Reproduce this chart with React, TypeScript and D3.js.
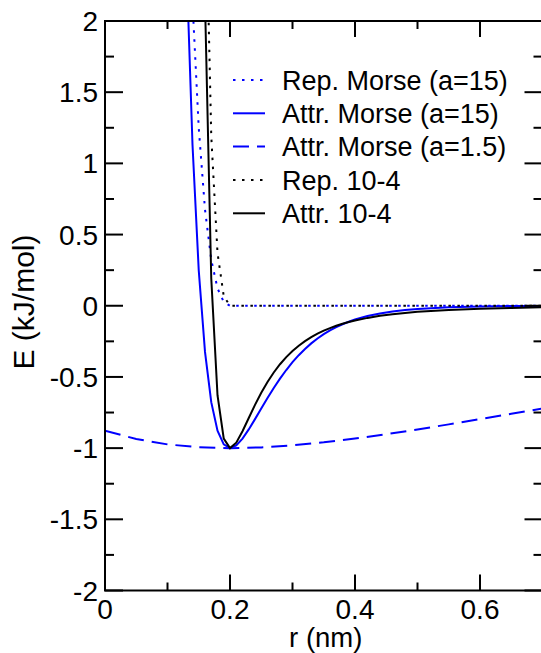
import React from "react";
import * as d3 from "d3";

// r (nm) sample points for the a=15 Morse and 10-4 curves
const R = [
  0.13, 0.14, 0.15, 0.16, 0.17, 0.18, 0.19, 0.2, 0.21, 0.22, 0.23, 0.24, 0.25,
  0.26, 0.27, 0.28, 0.29, 0.3, 0.31, 0.32, 0.33, 0.34, 0.35, 0.36, 0.37, 0.38,
  0.39, 0.4, 0.42, 0.44, 0.46, 0.48, 0.5, 0.55, 0.6, 0.65, 0.7,
];

const REP_MORSE_15 = [
  3.45087, 2.13044, 1.24769, 0.67588, 0.32298, 0.1224, 0.02619, 0, 0, 0, 0, 0, 0,
  0, 0, 0, 0, 0, 0, 0, 0, 0, 0, 0, 0, 0, 0, 0, 0, 0, 0, 0, 0, 0, 0, 0, 0,
];

const ATTR_MORSE_15 = [
  2.45087, 1.13044, 0.24769, -0.32412, -0.67702, -0.8776, -0.97381, -1, -0.9806,
  -0.93283, -0.86869, -0.79643, -0.7216, -0.64784, -0.57742, -0.51167, -0.45128,
  -0.39647, -0.34722, -0.30327, -0.26431, -0.22992, -0.19969, -0.17321, -0.15007,
  -0.1299, -0.11234, -0.0971, -0.07241, -0.0539, -0.04007, -0.02977, -0.0221,
  -0.01047, -0.00495, -0.00234, -0.00111,
];

const REP_10_4 = [
  41.18, 17.66, 7.571, 3.1398, 1.19343, 0.37172, 0.06723, 0, 0, 0, 0, 0, 0, 0, 0,
  0, 0, 0, 0, 0, 0, 0, 0, 0, 0, 0, 0, 0, 0, 0, 0, 0, 0, 0, 0, 0, 0,
];

const ATTR_10_4 = [
  40.18, 16.66, 6.571, 2.1398, 0.19343, -0.62828, -0.93277, -1, -0.9619, -0.88133,
  -0.78813, -0.69608, -0.61108, -0.53519, -0.46862, -0.4108, -0.3608, -0.31766,
  -0.28042, -0.24825, -0.2204, -0.19624, -0.17523, -0.1569, -0.14087, -0.1268,
  -0.11443, -0.10352, -0.0853, -0.0709, -0.0594, -0.05013, -0.0426, -0.02912,
  -0.02057, -0.01493, -0.0111,
];

// wide Morse (a=1.5)
const R_WIDE = [0, 0.05, 0.1, 0.15, 0.2, 0.25, 0.3, 0.35, 0.4, 0.45, 0.5, 0.55, 0.6, 0.65, 0.7];
const ATTR_MORSE_1_5 = [
  -0.8776, -0.93633, -0.97381, -0.99393, -1, -0.99478, -0.9806, -0.9594, -0.93283,
  -0.90221, -0.86869, -0.83317, -0.79643, -0.75907, -0.7216,
];

const X_MAJOR = [0, 0.2, 0.4, 0.6];
const X_MINOR = [0.1, 0.3, 0.5, 0.7];
const X_LABELS = ["0", "0.2", "0.4", "0.6"];
const Y_MAJOR = [-2, -1.5, -1, -0.5, 0, 0.5, 1, 1.5, 2];
const Y_MINOR = [-1.75, -1.25, -0.75, -0.25, 0.25, 0.75, 1.25, 1.75];
const Y_LABELS = ["-2", "-1.5", "-1", "-0.5", "0", "0.5", "1", "1.5", "2"];

const LEGEND_NAMES = [
  "Rep. Morse (a=15)",
  "Attr. Morse (a=15)",
  "Attr. Morse (a=1.5)",
  "Rep. 10-4",
  "Attr. 10-4",
];

const FONT = "'Liberation Sans', Arial, Helvetica, sans-serif";
const DOT = "2.5 6.5";
const DASH = "16 8";

export default function App() {
  const W = 541;
  const H = 653;
  const x0 = 105;
  const x1 = 542.5;
  const y0 = 590.5;
  const y1 = 21;
  const x = d3.scaleLinear().domain([0, 0.7]).range([x0, x1]);
  const y = d3.scaleLinear().domain([-2, 2]).range([y0, y1]);

  const line = d3
    .line<[number, number]>()
    .x((d) => x(d[0]))
    .y((d) => y(d[1]));

  const zip = (rs: number[], es: number[]) => rs.map((r, i) => [r, es[i]] as [number, number]);

  const series = [
    { name: LEGEND_NAMES[0], data: zip(R, REP_MORSE_15), color: "#0000ff", dash: DOT },
    { name: LEGEND_NAMES[1], data: zip(R, ATTR_MORSE_15), color: "#0000ff", dash: "none" },
    { name: LEGEND_NAMES[2], data: zip(R_WIDE, ATTR_MORSE_1_5), color: "#0000ff", dash: DASH },
    { name: LEGEND_NAMES[3], data: zip(R, REP_10_4), color: "#000000", dash: DOT },
    { name: LEGEND_NAMES[4], data: zip(R, ATTR_10_4), color: "#000000", dash: "none" },
  ];

  const majLenX = 16;
  const minLenX = 8;
  const majLenY = 18;
  const minLenY = 9;

  const legendX0 = 233;
  const legendX1 = 265;
  const legendTextX = 282;
  const legendY = [80, 113.3, 146.6, 180, 213.3];

  return (
    <svg
      width={W}
      height={H}
      style={{ position: "absolute", left: 0, top: 0, background: "#fff" }}
      fontFamily={FONT}
    >
      <defs>
        <clipPath id="plotclip">
          <rect x={x0} y={y1} width={x1 - x0} height={y0 - y1} />
        </clipPath>
      </defs>
      <rect x={0} y={0} width={W} height={H} fill="#fff" />
      <g clipPath="url(#plotclip)">
        {series.map((s, i) => (
          <path
            key={i}
            d={line(s.data) || ""}
            fill="none"
            stroke={s.color}
            strokeWidth={2}
            strokeDasharray={s.dash}
            strokeLinejoin="miter"
          />
        ))}
      </g>

      {/* frame */}
      <rect x={x0} y={y1} width={x1 - x0} height={y0 - y1} fill="none" stroke="#000" strokeWidth={2} />

      {/* x ticks */}
      {X_MAJOR.map((v, i) => (
        <g key={"xM" + i}>
          <line x1={x(v)} x2={x(v)} y1={y0} y2={y0 - majLenX} stroke="#000" strokeWidth={2} />
          <line x1={x(v)} x2={x(v)} y1={y1} y2={y1 + majLenX} stroke="#000" strokeWidth={2} />
          <text x={x(v)} y={618.5} fontSize={28} textAnchor="middle" fill="#000">
            {X_LABELS[i]}
          </text>
        </g>
      ))}
      {X_MINOR.map((v, i) => (
        <g key={"xm" + i}>
          <line x1={x(v)} x2={x(v)} y1={y0} y2={y0 - minLenX} stroke="#000" strokeWidth={2} />
          <line x1={x(v)} x2={x(v)} y1={y1} y2={y1 + minLenX} stroke="#000" strokeWidth={2} />
        </g>
      ))}

      {/* y ticks */}
      {Y_MAJOR.map((v, i) => (
        <g key={"yM" + i}>
          <line x1={x0} x2={x0 + majLenY} y1={y(v)} y2={y(v)} stroke="#000" strokeWidth={2} />
          <line x1={x1} x2={x1 - majLenY} y1={y(v)} y2={y(v)} stroke="#000" strokeWidth={2} />
          <text x={98} y={y(v)} dy="0.36em" fontSize={28} textAnchor="end" fill="#000">
            {Y_LABELS[i]}
          </text>
        </g>
      ))}
      {Y_MINOR.map((v, i) => (
        <g key={"ym" + i}>
          <line x1={x0} x2={x0 + minLenY} y1={y(v)} y2={y(v)} stroke="#000" strokeWidth={2} />
          <line x1={x1} x2={x1 - minLenY} y1={y(v)} y2={y(v)} stroke="#000" strokeWidth={2} />
        </g>
      ))}

      {/* axis labels */}
      <text x={(x0 + x1) / 2 + 2} y={647} fontSize={27.5} textAnchor="middle" fill="#000">
        r (nm)
      </text>
      <text
        transform={`translate(33.5,302) rotate(-90)`}
        fontSize={30}
        textAnchor="middle"
        fill="#000"
      >
        E (kJ/mol)
      </text>

      {/* legend */}
      {series.map((s, i) => (
        <g key={"lg" + i}>
          <line
            x1={legendX0}
            x2={legendX1}
            y1={legendY[i]}
            y2={legendY[i]}
            stroke={s.color}
            strokeWidth={2}
            strokeDasharray={s.dash}
          />
          <text x={legendTextX} y={legendY[i]} dy="0.36em" fontSize={27} fill="#000">
            {s.name}
          </text>
        </g>
      ))}
    </svg>
  );
}
